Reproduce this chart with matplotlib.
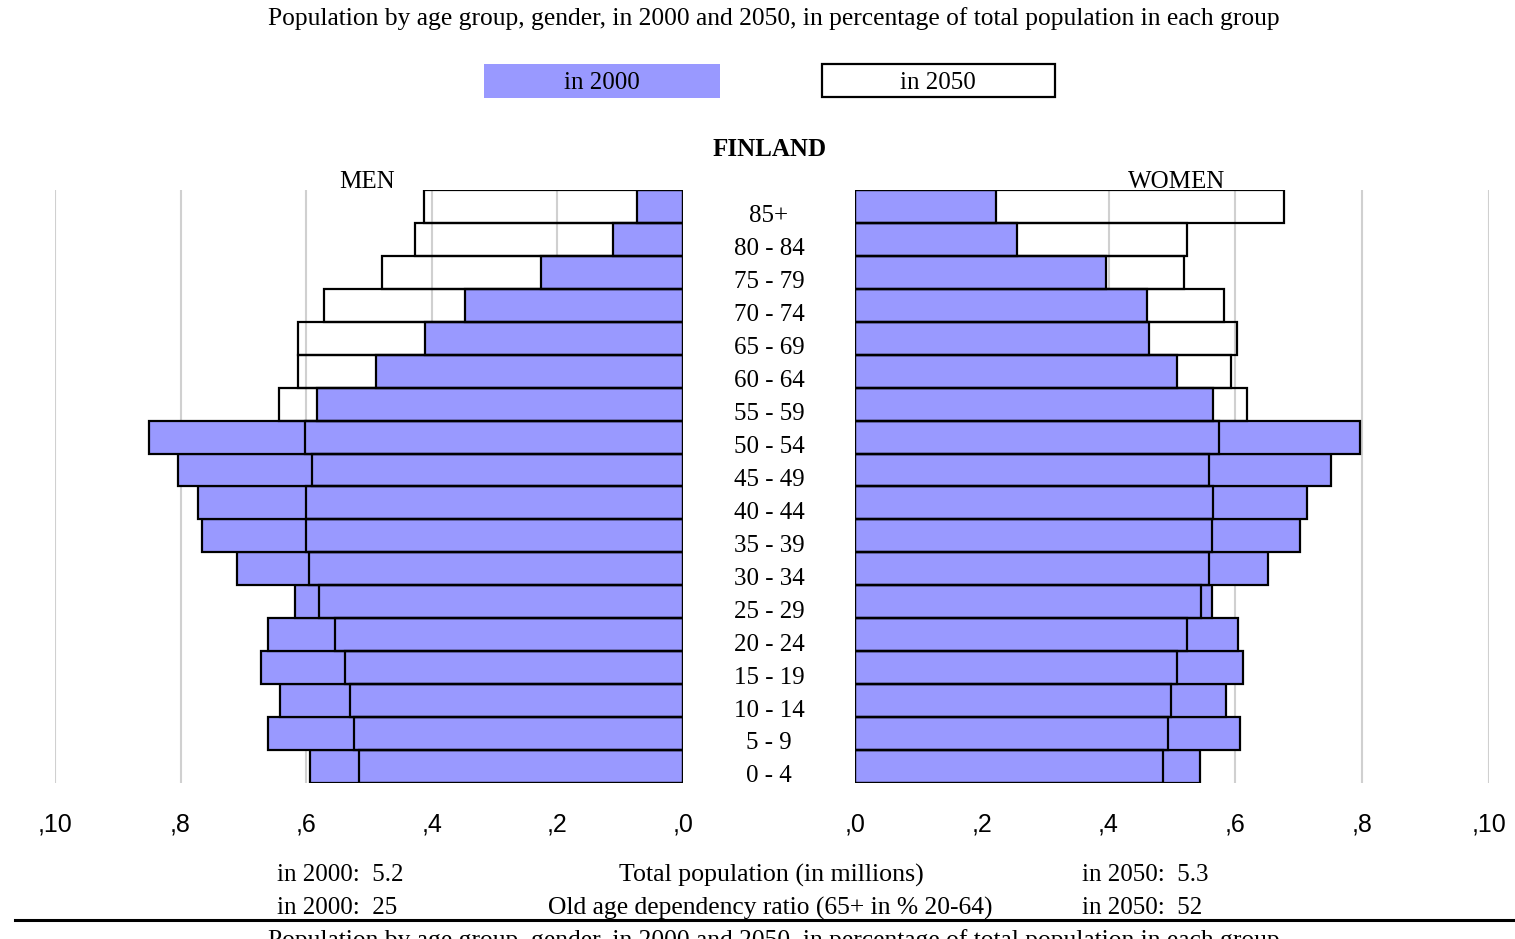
"""
Population pyramid for Finland, 2000 vs 2050.
"""

import matplotlib.pyplot as plt
from matplotlib.patches import Rectangle

ages = ["0 - 4", "5 - 9", "10 - 14", "15 - 19", "20 - 24", "25 - 29",
        "30 - 34", "35 - 39", "40 - 44", "45 - 49", "50 - 54", "55 - 59",
        "60 - 64", "65 - 69", "70 - 74", "75 - 79", "80 - 84", "85+"]

men_2000 = [0.594, 0.661, 0.642, 0.672, 0.661, 0.618, 0.710, 0.766, 0.772,
            0.804, 0.850, 0.583, 0.489, 0.411, 0.347, 0.226, 0.111, 0.073]
men_2050 = [0.516, 0.524, 0.530, 0.538, 0.554, 0.580, 0.596, 0.600, 0.600,
            0.591, 0.602, 0.643, 0.613, 0.613, 0.572, 0.479, 0.427, 0.412]
women_2000 = [0.544, 0.607, 0.585, 0.612, 0.604, 0.563, 0.651, 0.702, 0.713,
              0.751, 0.797, 0.565, 0.508, 0.464, 0.461, 0.396, 0.256, 0.222]
women_2050 = [0.486, 0.494, 0.498, 0.508, 0.524, 0.546, 0.558, 0.563, 0.565,
              0.558, 0.574, 0.618, 0.593, 0.603, 0.582, 0.519, 0.524, 0.677]

ticks = [0, 0.2, 0.4, 0.6, 0.8, 1.0]
tick_labels = [",0", ",2", ",4", ",6", ",8", ",10"]

title = ("Population by age group, gender, in 2000 and 2050, "
         "in percentage of total population in each group")

BLUE = "#9999ff"
W, H = 1515, 939
SERIF = "Liberation Serif"
SANS = "Liberation Sans"


def fx(px):
    return px / W


def fy(py):
    return 1 - py / H


def panel(rect, vals2000, vals2050, inverted):
    ax = fig.add_axes(rect)
    y = range(len(ages))
    ax.barh(y, vals2000, height=1.0, color=BLUE, edgecolor="black",
            linewidth=1.6, zorder=2)
    ax.barh(y, vals2050, height=1.0, fill=False, edgecolor="black",
            linewidth=1.6, zorder=3)
    ax.set_xlim((1.0, 0) if inverted else (0, 1.0))
    ax.set_ylim(-0.5, len(ages) - 0.5)
    ax.set_xticks(ticks)
    ax.set_xticklabels(tick_labels, fontfamily=SANS, fontsize=18)
    ax.set_yticks([])
    ax.tick_params(axis="x", length=0, pad=21.5)
    ax.grid(axis="x", color="#d0d0d0", linewidth=1.5, zorder=0)
    ax.set_axisbelow(True)
    for s in ax.spines.values():
        s.set_visible(False)
    return ax


fig = plt.figure(figsize=(W / 100, H / 100), dpi=100)

bottom = fy(783)
height = (783 - 190) / H
panel([fx(55), bottom, fx(683 - 55), height], men_2000, men_2050, True)
panel([fx(855), bottom, fx(1489 - 855), height], women_2000, women_2050, False)

mid = fig.add_axes([fx(683), bottom, fx(855 - 683), height])
mid.set_xlim(0, 1)
mid.set_ylim(-0.5, len(ages) - 0.5)
mid.axis("off")
for i, a in enumerate(ages):
    mid.text(0.5, i - 0.30, a, ha="center", va="center",
             fontfamily=SERIF, fontsize=18)

# header
fig.text(fx(774), fy(19), title, ha="center", va="center",
         fontfamily=SERIF, fontsize=18.4)
fig.patches.append(Rectangle((fx(484), fy(98)), fx(720 - 484), (98 - 64) / H,
                             transform=fig.transFigure, facecolor=BLUE,
                             edgecolor="none"))
fig.patches.append(Rectangle((fx(822), fy(97)), fx(1055 - 822), (97 - 64) / H,
                             transform=fig.transFigure, facecolor="white",
                             edgecolor="black", linewidth=1.6))
fig.text(fx(602), fy(83), "in 2000", ha="center", va="center",
         fontfamily=SERIF, fontsize=18)
fig.text(fx(938), fy(83), "in 2050", ha="center", va="center",
         fontfamily=SERIF, fontsize=18)
fig.text(fx(770), fy(150), "FINLAND", ha="center", va="center",
         fontfamily=SERIF, fontsize=18, fontweight="bold")
fig.text(fx(367), fy(182), "MEN", ha="center", va="center",
         fontfamily=SERIF, fontsize=18)
fig.text(fx(1177), fy(182), "WOMEN", ha="center", va="center",
         fontfamily=SERIF, fontsize=18)

# footer
fig.text(fx(277), fy(875), "in 2000:  5.2", ha="left", va="center",
         fontfamily=SERIF, fontsize=18)
fig.text(fx(771), fy(875), "Total population (in millions)", ha="center",
         va="center", fontfamily=SERIF, fontsize=18.6)
fig.text(fx(1082), fy(875), "in 2050:  5.3", ha="left", va="center",
         fontfamily=SERIF, fontsize=18)
fig.text(fx(277), fy(908), "in 2000:  25", ha="left", va="center",
         fontfamily=SERIF, fontsize=18)
fig.text(fx(770), fy(908), "Old age dependency ratio (65+ in % 20-64)",
         ha="center", va="center", fontfamily=SERIF, fontsize=18.4)
fig.text(fx(1082), fy(908), "in 2050:  52", ha="left", va="center",
         fontfamily=SERIF, fontsize=18)
fig.add_artist(plt.Line2D([fx(15), 1], [fy(920), fy(920)],
                          transform=fig.transFigure, color="black",
                          linewidth=2.2))
# repeated caption, cut off by the bottom edge as in the source
fig.text(fx(774), fy(947), title, ha="center", va="baseline",
         fontfamily=SERIF, fontsize=18.4)

fig.savefig("out.png", dpi=100)
